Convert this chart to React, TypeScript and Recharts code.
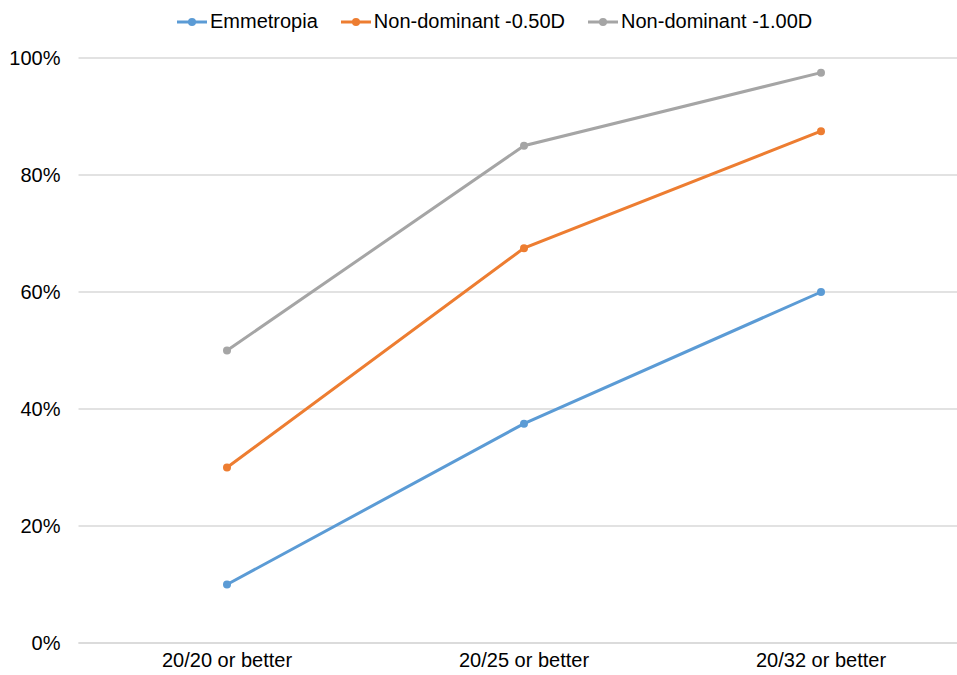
import { LineChart, Line, XAxis, YAxis, CartesianGrid } from 'recharts'

const categories = ['20/20 or better', '20/25 or better', '20/32 or better']
const emmetropia = [10, 37.5, 60]
const nonDominant050 = [30, 67.5, 87.5]
const nonDominant100 = [50, 85, 97.5]
const yTicks = [0, 20, 40, 60, 80, 100]

const series = [
  { key: 'emm', name: 'Emmetropia', color: '#5B9BD5', values: emmetropia },
  { key: 'nd05', name: 'Non-dominant -0.50D', color: '#ED7D31', values: nonDominant050 },
  { key: 'nd10', name: 'Non-dominant -1.00D', color: '#A5A5A5', values: nonDominant100 }
]

const data = categories.map((name, i) => {
  const row: Record<string, string | number> = { name }
  series.forEach(s => { row[s.key] = s.values[i] })
  return row
})

const font = 'Liberation Sans, Arial, sans-serif'

function LegendRow () {
  return (
    <div
      style={{
        position: 'absolute',
        top: 10,
        left: 177,
        display: 'flex',
        gap: 23,
        fontFamily: font,
        fontSize: 20,
        color: '#000'
      }}
    >
      {series.map(s => (
        <div key={s.key} style={{ display: 'flex', alignItems: 'center' }}>
          <svg width={30} height={20} style={{ marginRight: 3 }}>
            <line x1={0} y1={10} x2={30} y2={10} stroke={s.color} strokeWidth={3} />
            <circle cx={15} cy={10} r={4} fill={s.color} />
          </svg>
          <span>{s.name}</span>
        </div>
      ))}
    </div>
  )
}

export default function App () {
  return (
    <>
      <style>{'html, body { margin: 0; overflow: hidden; }'}</style>
      <div style={{ position: 'relative', width: 957, height: 675, overflow: 'hidden', background: '#fff' }}>
        <LegendRow />
        {/* plot area runs past the right edge, so the grid reaches it */}
        <LineChart
          width={957}
          height={675}
          data={data}
          margin={{ top: 58, right: -12.5, bottom: 0, left: 8.5 }}
        >
          <CartesianGrid vertical={false} stroke='#D9D9D9' strokeWidth={1.5} />
          <XAxis
            dataKey='name'
            height={32}
            padding={{ left: 148.5, right: 148.5 }}
            tickLine={false}
            tickSize={0}
            tickMargin={10}
            axisLine={{ stroke: '#D9D9D9', strokeWidth: 1.5 }}
            tick={{ fill: '#000', fontSize: 20, fontFamily: font }}
          />
          <YAxis
            width={70}
            domain={[0, 100]}
            ticks={yTicks}
            tickFormatter={v => `${v}%`}
            axisLine={false}
            tickLine={false}
            tickSize={0}
            tickMargin={18}
            tick={{ fill: '#000', fontSize: 20, fontFamily: font }}
          />
          {series.map(s => (
            <Line
              key={s.key}
              dataKey={s.key}
              name={s.name}
              type='linear'
              stroke={s.color}
              strokeWidth={3}
              dot={{ r: 4, fill: s.color, stroke: s.color, strokeWidth: 0 }}
              activeDot={false}
              isAnimationActive={false}
            />
          ))}
        </LineChart>
      </div>
    </>
  )
}
